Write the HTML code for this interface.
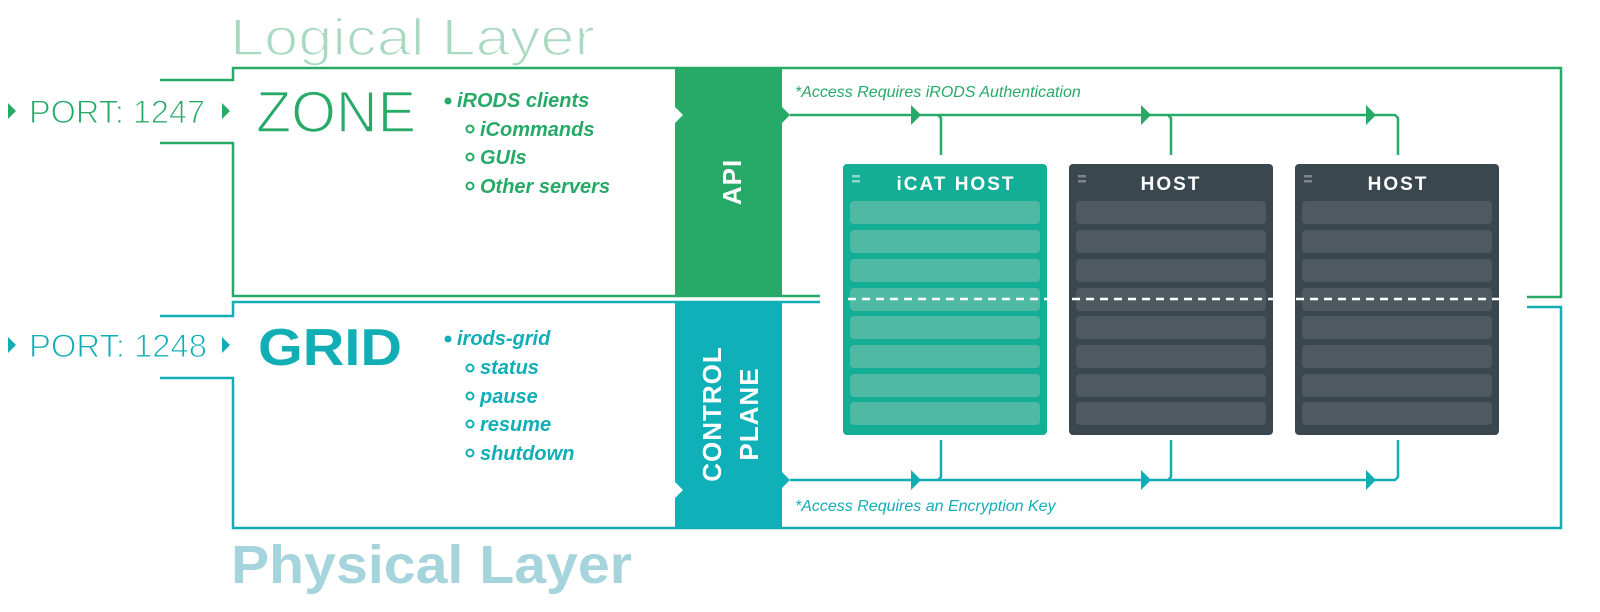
<!DOCTYPE html>
<html><head><meta charset="utf-8"><style>
html,body{margin:0;padding:0;background:#fff;}
svg{display:block;}
text{font-family:"Liberation Sans",sans-serif;}
.thin{stroke:#fff;stroke-width:1.6px;}
.thin2{stroke:#fff;stroke-width:1px;}
</style></head><body>
<svg width="1600" height="612" viewBox="0 0 1600 612" xmlns="http://www.w3.org/2000/svg">
<!-- Titles -->
<text class="thin" x="230" y="55" font-size="52" fill="#a9d9c0" textLength="365" lengthAdjust="spacingAndGlyphs">Logical Layer</text>
<text x="231" y="583" font-size="54" fill="#a6d4dc" font-weight="bold" textLength="401" lengthAdjust="spacingAndGlyphs">Physical Layer</text>

<!-- Green frame -->
<g stroke="#27a967" stroke-width="2.5" fill="none">
<polyline points="160,80 233,80 233,68 1561,68 1561,297 1527,297"/>
<polyline points="160,143 233,143 233,296 820,296"/>
</g>
<!-- Cyan frame -->
<g stroke="#12aeb6" stroke-width="2.5" fill="none">
<polyline points="160,316 233,316 233,302 820,302"/>
<polyline points="1527,307 1561,307 1561,528 233,528 233,378 160,378"/>
</g>

<!-- Ports -->
<polygon points="8,103 16,111 8,119" fill="#27a967"/>
<text class="thin2" x="29" y="123" font-size="32" fill="#27a967" textLength="176" lengthAdjust="spacingAndGlyphs">PORT: 1247</text>
<polygon points="222,103 230,111 222,119" fill="#27a967"/>
<polygon points="8,337 16,345 8,353" fill="#12aeb6"/>
<text class="thin2" x="29" y="357" font-size="32" fill="#12aeb6" textLength="178" lengthAdjust="spacingAndGlyphs">PORT: 1248</text>
<polygon points="222,337 230,345 222,353" fill="#12aeb6"/>

<text class="thin" x="256" y="132" font-size="58" fill="#27a967" textLength="160" lengthAdjust="spacingAndGlyphs">ZONE</text>
<text x="258" y="365" font-size="52" fill="#12aeb6" font-weight="bold" textLength="144" lengthAdjust="spacingAndGlyphs">GRID</text>

<!-- Zone list -->
<g fill="#27a967" font-size="20" font-style="italic" font-weight="bold">
<circle cx="448" cy="101" r="3.5"/>
<text x="457" y="107">iRODS clients</text>
<circle cx="470" cy="129" r="3.5" fill="none" stroke="#27a967" stroke-width="2"/>
<text x="480" y="136">iCommands</text>
<circle cx="470" cy="157" r="3.5" fill="none" stroke="#27a967" stroke-width="2"/>
<text x="480" y="164">GUIs</text>
<circle cx="470" cy="186" r="3.5" fill="none" stroke="#27a967" stroke-width="2"/>
<text x="480" y="193">Other servers</text>
</g>
<!-- Grid list -->
<g fill="#12aeb6" font-size="20" font-style="italic" font-weight="bold">
<circle cx="448" cy="339" r="3.5"/>
<text x="457" y="345">irods-grid</text>
<circle cx="470" cy="368" r="3.5" fill="none" stroke="#12aeb6" stroke-width="2"/>
<text x="480" y="374">status</text>
<circle cx="470" cy="396" r="3.5" fill="none" stroke="#12aeb6" stroke-width="2"/>
<text x="480" y="403">pause</text>
<circle cx="470" cy="424" r="3.5" fill="none" stroke="#12aeb6" stroke-width="2"/>
<text x="480" y="431">resume</text>
<circle cx="470" cy="453" r="3.5" fill="none" stroke="#12aeb6" stroke-width="2"/>
<text x="480" y="460">shutdown</text>
</g>

<!-- API bar -->
<polygon points="675,68 782,68 782,107 790,115 782,123 782,296 675,296 675,123 683,115 675,107" fill="#27a967"/>
<text transform="translate(741,182) rotate(-90)" text-anchor="middle" font-size="26" font-weight="bold" fill="#fff" letter-spacing="1">API</text>
<!-- Control bar -->
<polygon points="675,302 782,302 782,472 790,480 782,488 782,528 675,528 675,498 683,490 675,482" fill="#0fb0b8"/>
<text transform="translate(721,414) rotate(-90)" text-anchor="middle" font-size="26" font-weight="bold" fill="#fff" letter-spacing="1">CONTROL</text>
<text transform="translate(758,414) rotate(-90)" text-anchor="middle" font-size="26" font-weight="bold" fill="#fff" letter-spacing="1">PLANE</text>

<!-- Access texts -->
<text x="795" y="97" font-size="16" font-style="italic" fill="#27a967">*Access Requires iRODS Authentication</text>
<text x="795" y="511" font-size="16" font-style="italic" fill="#12aeb6">*Access Requires an Encryption Key</text>

<!-- Top connectors -->
<g stroke="#27a967" stroke-width="2.5" fill="none">
<polyline points="790,115 1395,115 1398,118 1398,155"/>
<polyline points="938,115 941,118 941,155"/>
<polyline points="1168,115 1171,118 1171,155"/>
</g>
<g fill="#27a967">
<polygon points="911,105 921,115 911,125"/>
<polygon points="1141,105 1151,115 1141,125"/>
<polygon points="1366,105 1376,115 1366,125"/>
</g>
<!-- Bottom connectors -->
<g stroke="#12aeb6" stroke-width="2.5" fill="none">
<polyline points="790,480 1395,480 1398,477 1398,440"/>
<polyline points="938,480 941,477 941,440"/>
<polyline points="1168,480 1171,477 1171,440"/>
</g>
<g fill="#12aeb6">
<polygon points="911,470 921,480 911,490"/>
<polygon points="1141,470 1151,480 1141,490"/>
<polygon points="1366,470 1376,480 1366,490"/>
</g>

<!-- Hosts -->
<g>
<rect x="843" y="164" width="204" height="271" rx="4" fill="#14ae96"/>
<rect x="852" y="175" width="8" height="2.5" fill="#8fd7c8"/><rect x="852" y="180" width="8" height="2.5" fill="#8fd7c8"/>
<text x="956" y="190" text-anchor="middle" font-size="19" font-weight="bold" fill="#fff" letter-spacing="2">iCAT HOST</text>
<g fill="#4fb9a3">
<rect x="850" y="201" width="190" height="23" rx="4"/><rect x="850" y="230" width="190" height="23" rx="4"/><rect x="850" y="259" width="190" height="23" rx="4"/><rect x="850" y="288" width="190" height="23" rx="4"/><rect x="850" y="316" width="190" height="23" rx="4"/><rect x="850" y="345" width="190" height="23" rx="4"/><rect x="850" y="374" width="190" height="23" rx="4"/><rect x="850" y="402" width="190" height="23" rx="4"/>
</g>
</g>
<g>
<rect x="1069" y="164" width="204" height="271" rx="4" fill="#3b474f"/>
<rect x="1078" y="175" width="8" height="2.5" fill="#7c868b"/><rect x="1078" y="180" width="8" height="2.5" fill="#7c868b"/>
<text x="1171" y="190" text-anchor="middle" font-size="19" font-weight="bold" fill="#fff" letter-spacing="2">HOST</text>
<g fill="#4f5a60">
<rect x="1076" y="201" width="190" height="23" rx="4"/><rect x="1076" y="230" width="190" height="23" rx="4"/><rect x="1076" y="259" width="190" height="23" rx="4"/><rect x="1076" y="288" width="190" height="23" rx="4"/><rect x="1076" y="316" width="190" height="23" rx="4"/><rect x="1076" y="345" width="190" height="23" rx="4"/><rect x="1076" y="374" width="190" height="23" rx="4"/><rect x="1076" y="402" width="190" height="23" rx="4"/>
</g>
</g>
<g>
<rect x="1295" y="164" width="204" height="271" rx="4" fill="#3b474f"/>
<rect x="1304" y="175" width="8" height="2.5" fill="#7c868b"/><rect x="1304" y="180" width="8" height="2.5" fill="#7c868b"/>
<text x="1398" y="190" text-anchor="middle" font-size="19" font-weight="bold" fill="#fff" letter-spacing="2">HOST</text>
<g fill="#4f5a60">
<rect x="1302" y="201" width="190" height="23" rx="4"/><rect x="1302" y="230" width="190" height="23" rx="4"/><rect x="1302" y="259" width="190" height="23" rx="4"/><rect x="1302" y="288" width="190" height="23" rx="4"/><rect x="1302" y="316" width="190" height="23" rx="4"/><rect x="1302" y="345" width="190" height="23" rx="4"/><rect x="1302" y="374" width="190" height="23" rx="4"/><rect x="1302" y="402" width="190" height="23" rx="4"/>
</g>
</g>
<!-- dashed divider -->
<line x1="820" y1="299" x2="1527" y2="299" stroke="#fff" stroke-width="2.5" stroke-dasharray="8,6"/>
</svg>
</body></html>
